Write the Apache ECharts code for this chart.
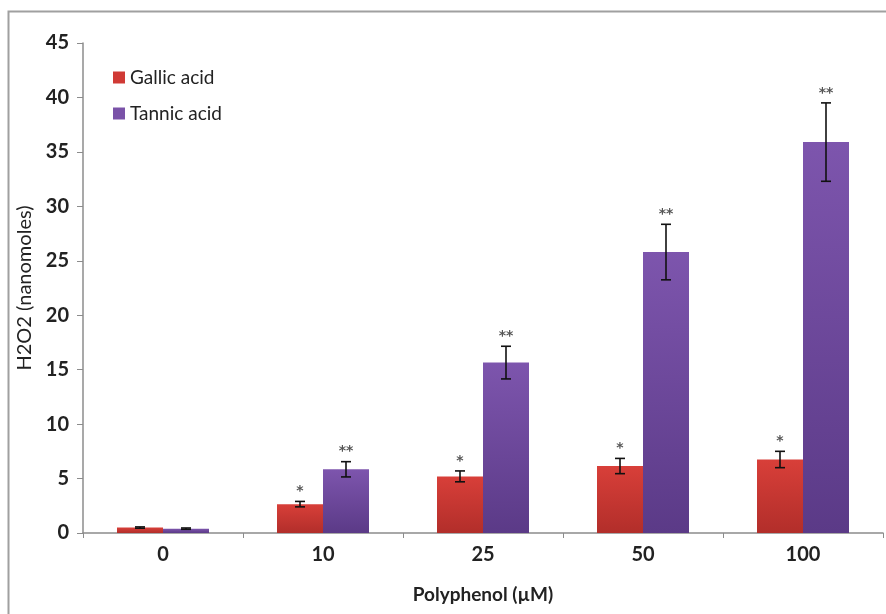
<!DOCTYPE html>
<html><head><meta charset="utf-8">
<script src="https://cdn.jsdelivr.net/npm/echarts@6/dist/echarts.min.js"></script>
<style>html,body{margin:0;padding:0;background:#fff}#c{width:886px;height:614px}</style>
</head><body><div id="c"></div>
<script>
var categories = ['0', '10', '25', '50', '100'];
var gallic = [0.5, 2.65, 5.2, 6.15, 6.75];
var gallicErr = [0.06, 0.25, 0.5, 0.7, 0.75];
var tannic = [0.4, 5.85, 15.65, 25.8, 35.9];
var tannicErr = [0.06, 0.7, 1.5, 2.55, 3.6];
var gallicSig = ['', '*', '*', '*', '*'];
var tannicSig = ['', '**', '**', '**', '**'];
var yTicks = [0, 5, 10, 15, 20, 25, 30, 35, 40, 45];

var FONT = 'Lato';
var chart = echarts.init(document.getElementById('c'), null, {renderer: 'canvas'});
var GAP = 0.425;

function errSeries(name, vals, errs, sigs, side) {
  return {
    type: 'custom', name: name + ' err', silent: true, z: 10,
    data: vals.map(function (v, i) { return [i, v, errs[i]]; }),
    renderItem: function (params, api) {
      var i = api.value(0), v = api.value(1), e = api.value(2);
      var sig = sigs[i];
      var catW = api.size([1, 0])[0];
      var bw = catW * (1 - GAP) / 2;
      var c = api.coord([i, v]);
      var x = c[0] + side * bw / 2;
      var top = api.coord([i, v + e])[1];
      var bot = api.coord([i, v - e])[1];
      var cap = 5;
      var st = {stroke: '#111', lineWidth: 1.6};
      var children = [
        {type: 'line', shape: {x1: x, y1: top, x2: x, y2: bot}, style: st},
        {type: 'line', shape: {x1: x - cap, y1: top, x2: x + cap, y2: top}, style: st},
        {type: 'line', shape: {x1: x - cap, y1: bot, x2: x + cap, y2: bot}, style: st}
      ];
      if (sig) {
        children.push({type: 'text', style: {text: sig, x: x, y: top - 10, align: 'center', verticalAlign: 'middle',
          fill: '#555', font: 'bold 14px "DejaVu Sans"'}});
      }
      return {type: 'group', children: children};
    }
  };
}

function grad(top, bottom) {
  return new echarts.graphic.LinearGradient(0, 0, 0, 1, [{offset: 0, color: top}, {offset: 1, color: bottom}]);
}

chart.setOption({
  animation: false,
  backgroundColor: '#fff',
  textStyle: {fontFamily: FONT},
  graphic: [{type: 'rect', shape: {x: 8.5, y: 11.5, width: 1000, height: 1000},
    style: {fill: 'none', stroke: '#a0a0a0', lineWidth: 2}, z: -1}],
  legend: {
    left: 108, top: 63, orient: 'vertical', itemGap: 17, itemWidth: 12, itemHeight: 12,
    icon: 'rect', textStyle: {fontSize: 19, color: '#222', fontFamily: FONT},
    data: [{name: 'Gallic acid', itemStyle: {color: '#d03a35'}}, {name: 'Tannic acid', itemStyle: {color: '#7a52a8'}}]
  },
  grid: {left: 83, right: 3, top: 43, bottom: 81, containLabel: false},
  xAxis: {
    type: 'category', data: categories,
    name: 'Polyphenol (µM)', nameLocation: 'middle', nameGap: 52,
    nameTextStyle: {fontSize: 19, color: '#222', fontWeight: 'bold', fontFamily: FONT},
    axisLine: {lineStyle: {color: '#8c8c8c', width: 1.5}},
    axisTick: {show: true, length: 5, lineStyle: {color: '#8c8c8c'}},
    axisLabel: {fontSize: 20, fontWeight: 'bold', color: '#222', margin: 12, fontFamily: FONT}
  },
  yAxis: {
    type: 'value', min: 0, max: 45, interval: 5,
    name: 'H2O2 (nanomoles)', nameLocation: 'middle', nameGap: 47, nameRotate: 90,
    nameTextStyle: {fontSize: 20, color: '#222', fontFamily: FONT},
    axisLine: {show: true, lineStyle: {color: '#8c8c8c', width: 1.5}},
    axisTick: {show: true, length: 6, lineStyle: {color: '#8c8c8c'}},
    splitLine: {show: false},
    axisLabel: {fontSize: 20, fontWeight: 'bold', color: '#222', margin: 14, fontFamily: FONT,
      formatter: function (v) { return yTicks.indexOf(v) >= 0 ? String(v) : ''; }}
  },
  series: [
    {type: 'bar', name: 'Gallic acid', data: gallic, barGap: '0%', barCategoryGap: (GAP * 100) + '%',
      itemStyle: {color: grad('#d83f39', '#b22e2a')}},
    {type: 'bar', name: 'Tannic acid', data: tannic, barGap: '0%', barCategoryGap: (GAP * 100) + '%',
      itemStyle: {color: grad('#7d55ad', '#5b3a87')}},
    errSeries('Gallic acid', gallic, gallicErr, gallicSig, -1),
    errSeries('Tannic acid', tannic, tannicErr, tannicSig, 1)
  ]
});
</script></body></html>
